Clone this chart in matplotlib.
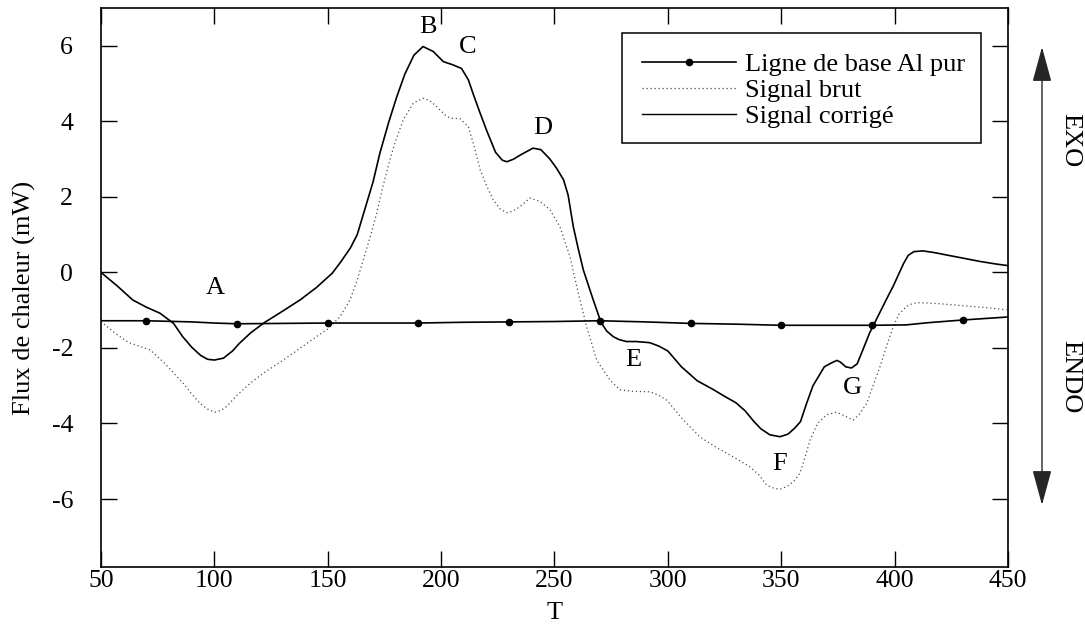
import matplotlib
matplotlib.use("Agg")
import matplotlib.pyplot as plt
from matplotlib.lines import Line2D
from matplotlib.patches import Rectangle, FancyArrowPatch

plt.rcParams['font.family'] = ['Liberation Serif', 'DejaVu Serif']
plt.rcParams['axes.unicode_minus'] = False

# Signal corrige (trait plein)
corr_T = [50, 57, 64, 70, 76, 82, 86, 90, 94, 97, 100, 104, 108, 111, 116, 122, 130, 138,
          145, 152, 156, 160, 163, 166, 170, 173, 177, 180.5, 184, 188, 192, 196.5, 201,
          205, 209, 212, 214, 217, 220, 224, 227, 229, 232, 235, 240.5, 244, 248, 251,
          254, 256, 258.3, 260.5, 262.7, 265, 267.1, 270.5, 273, 275.9, 278.5, 281.8, 286,
          292, 296, 300, 306, 313, 320, 325, 330, 334, 338, 341, 345, 349.5, 353, 356,
          358.5, 361, 364, 366, 369, 372, 374.5, 376, 378.5, 381, 383.5, 386, 389, 391.5,
          394, 396.5, 399.5, 402, 404, 406, 408.5, 412.5, 418, 423, 430, 437.7, 445, 450]
corr_Q = [0.0, -0.35, -0.73, -0.92, -1.08, -1.35, -1.7, -1.98, -2.2, -2.3, -2.32, -2.27,
          -2.08, -1.88, -1.6, -1.33, -1.03, -0.72, -0.4, -0.02, 0.3, 0.65, 1.0, 1.6, 2.4,
          3.16, 4.0, 4.66, 5.25, 5.75, 5.98, 5.85, 5.58, 5.5, 5.4, 5.1, 4.75, 4.25, 3.77,
          3.18, 2.97, 2.93, 3.0, 3.11, 3.29, 3.25, 3.0, 2.75, 2.45, 2.05, 1.21, 0.62, 0.07,
          -0.35, -0.73, -1.32, -1.55, -1.7, -1.78, -1.83, -1.83, -1.86, -1.95, -2.08, -2.5,
          -2.87, -3.1, -3.28, -3.45, -3.66, -3.95, -4.14, -4.3, -4.35, -4.28, -4.12, -3.95,
          -3.5, -3.0, -2.8, -2.5, -2.4, -2.33, -2.37, -2.5, -2.53, -2.42, -2.05, -1.6,
          -1.3, -1.0, -0.7, -0.35, -0.02, 0.24, 0.45, 0.55, 0.57, 0.52, 0.46, 0.38, 0.29,
          0.22, 0.18]

# Signal brut (pointille)
brut_T = [50, 56, 62, 71.6, 78, 86.3, 90, 93.7, 97, 100.3, 103, 105.4, 110, 115.7, 122,
          130.4, 138, 145, 150, 155.4, 159.8, 163, 166, 169, 171.6, 174, 177.4, 180, 183.3,
          187.7, 192, 195, 198, 202.4, 205, 208.3, 212, 214.5, 217.2, 220, 223, 226, 228.9,
          231.5, 234.8, 239.2, 243.6, 248, 252.4, 256.8, 260.5, 264.2, 268.6, 274.5, 278.9,
          285, 292, 296, 299.5, 306, 314, 321, 328.7, 336, 340, 343.6, 347, 349.5, 353, 356,
          358.3, 360.5, 362.7, 366, 370, 374.4, 378, 381.7, 384.5, 387.7, 390.5, 393.6,
          396.5, 399.4, 402, 405.3, 408, 411.2, 420, 431.8, 440, 449.4]
brut_Q = [-1.3, -1.6, -1.85, -2.05, -2.4, -2.94, -3.22, -3.47, -3.62, -3.7, -3.65, -3.55,
          -3.25, -2.94, -2.65, -2.32, -2.0, -1.7, -1.5, -1.17, -0.73, -0.2, 0.4, 1.0, 1.57,
          2.2, 2.98, 3.5, 4.04, 4.48, 4.61, 4.55, 4.39, 4.13, 4.08, 4.07, 3.86, 3.35, 2.72,
          2.3, 1.92, 1.68, 1.58, 1.62, 1.74, 1.97, 1.88, 1.66, 1.21, 0.42, -0.55, -1.44,
          -2.32, -2.85, -3.11, -3.15, -3.16, -3.25, -3.38, -3.85, -4.35, -4.62, -4.88, -5.14,
          -5.35, -5.63, -5.72, -5.74, -5.65, -5.5, -5.31, -4.9, -4.44, -4.0, -3.77, -3.7,
          -3.8, -3.91, -3.75, -3.47, -3.0, -2.49, -1.95, -1.43, -1.1, -0.9, -0.82, -0.8,
          -0.83, -0.89, -0.93, -0.99]

# Ligne de base Al pur
base_T = [50, 70, 90, 100, 110, 130, 150, 170, 190, 210, 230, 250, 270, 290, 310, 330,
          350, 370, 390, 405, 415, 430, 450]
base_Q = [-1.28, -1.28, -1.31, -1.34, -1.36, -1.35, -1.34, -1.34, -1.34, -1.32, -1.31,
          -1.30, -1.28, -1.31, -1.35, -1.37, -1.40, -1.40, -1.40, -1.39, -1.33, -1.26, -1.18]
base_marks = [70, 110, 150, 190, 230, 270, 310, 350, 390, 430]

# Reperes des pics
peak_names = ['A', 'B', 'C', 'D', 'E', 'F', 'G']
peak_T = [100.3, 194.2, 211.8, 245, 284.6, 349.5, 381.6]
peak_Q = [-0.41, 6.5, 5.97, 3.83, -2.32, -5.07, -3.06]

fig = plt.figure(figsize=(10.85, 6.26), dpi=100)
ax = fig.add_axes([0.0931, 0.0942, 0.8359, 0.893])

ax.plot(brut_T, brut_Q, color='0.3', lw=0.9, linestyle=(0, (1, 2.2)))
ax.plot(corr_T, corr_Q, color='black', lw=1.2)
mark_idx = [base_T.index(t) for t in base_marks]
ax.plot(base_T, base_Q, color='black', lw=1.2, marker='o', markersize=4.5,
        markevery=mark_idx)

for name, t, q in zip(peak_names, peak_T, peak_Q):
    ax.text(t, q, name, fontsize=19, ha='center', va='center')

ax.set_xlim(50, 450)
ax.set_ylim(-7.8, 7.0)
ax.set_xticks([50, 100, 150, 200, 250, 300, 350, 400, 450])
ax.set_yticks([-6, -4, -2, 0, 2, 4, 6])
ax.tick_params(direction='in', length=11.5, width=1, top=True, right=True,
               labelsize=18.5)
ax.tick_params(axis='x', pad=2)
ax.tick_params(axis='y', pad=20)
for s in ax.spines.values():
    s.set_linewidth(1.2)

ax.set_xlabel('T', fontsize=19)
ax.xaxis.set_label_coords(0.5, -0.063)
ax.set_ylabel('Flux de chaleur (mW)', fontsize=19)
ax.yaxis.set_label_coords(-0.072, 0.482)

# Legende avec cadre
handles = [
    Line2D([], [], color='black', lw=1.2, marker='o', markersize=4.5),
    Line2D([], [], color='0.3', lw=0.9, linestyle=(0, (1, 2.2))),
    Line2D([], [], color='black', lw=1.0),
]
leg = ax.legend(handles, ['Ligne de base Al pur', 'Signal brut', 'Signal corrigé'],
                loc='upper left', bbox_to_anchor=(0.597, 0.92), frameon=False,
                fontsize=19, numpoints=1, handlelength=3.55, handletextpad=0.35,
                labelspacing=0.09, borderpad=0, borderaxespad=0)
ax.add_patch(Rectangle((0.574, 0.759), 0.396, 0.197, transform=ax.transAxes,
                       fill=False, edgecolor='black', lw=1.1))

# Fleche EXO / ENDO
fig.patches.append(FancyArrowPatch(
    (1042 / 1085, 1 - 505 / 626), (1042 / 1085, 1 - 47 / 626),
    transform=fig.transFigure, arrowstyle='<|-|>,head_length=1.1,head_width=0.3',
    mutation_scale=20, color='0.15', lw=1.0, shrinkA=0, shrinkB=0))
fig.text(1070 / 1085, 1 - 140 / 626, 'EXO', rotation=270, fontsize=19,
         ha='center', va='center')
fig.text(1070 / 1085, 1 - 377 / 626, 'ENDO', rotation=270, fontsize=19,
         ha='center', va='center')

fig.savefig('out.png', dpi=100)
